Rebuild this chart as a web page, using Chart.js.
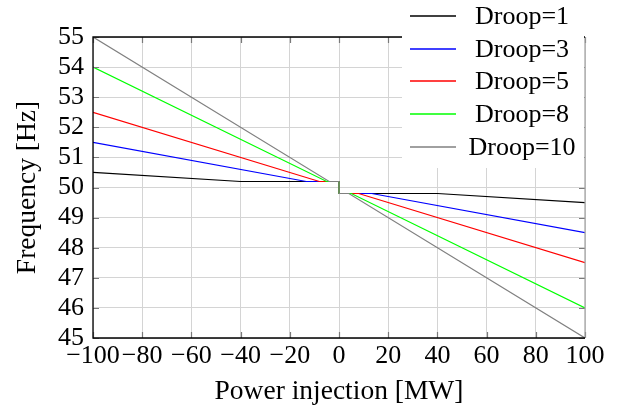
<!DOCTYPE html>
<html>
<head>
<meta charset="utf-8">
<script src="https://cdn.jsdelivr.net/npm/chart.js@4.4.0/dist/chart.umd.min.js"></script>
<style>
  html, body { margin: 0; padding: 0; background: #fff; }
  #wrap { position: relative; width: 628px; height: 412px; }
</style>
</head>
<body>
<div id="wrap"><canvas id="chart"></canvas></div>
<script>
//chart data
const seriesLabels = ["Droop=1", "Droop=3", "Droop=5", "Droop=8", "Droop=10"];
const seriesColors = ["#000000", "#0000ff", "#ff0000", "#00ff00", "#808080"];

const droop1X = [-100, -40, 0, 0, 40, 100];
const droop1Y = [50.5, 50.2, 50.2, 49.8, 49.8, 49.5];
const droop3X = [-100, -13.3, 0, 0, 13.3, 100];
const droop3Y = [51.5, 50.2, 50.2, 49.8, 49.8, 48.5];
const droop5X = [-100, -8, 0, 0, 8, 100];
const droop5Y = [52.5, 50.2, 50.2, 49.8, 49.8, 47.5];
const droop8X = [-100, -5, 0, 0, 5, 100];
const droop8Y = [54, 50.2, 50.2, 49.8, 49.8, 46];
const droop10X = [-100, -4, 0, 0, 4, 100];
const droop10Y = [55, 50.2, 50.2, 49.8, 49.8, 45];

const xTickValues = [-100, -80, -60, -40, -20, 0, 20, 40, 60, 80, 100];
const yTickValues = [45, 46, 47, 48, 49, 50, 51, 52, 53, 54, 55];

const FONT = "'Liberation Serif', 'Times New Roman', serif";

//build the point lists for the library
function toPoints(xs, ys) {
    return xs.map((x, i) => ({x: x, y: ys[i]}));
}
const seriesX = [droop1X, droop3X, droop5X, droop8X, droop10X];
const seriesY = [droop1Y, droop3Y, droop5Y, droop8Y, droop10Y];

//later series are drawn on top, like in the pgfplots figure
const datasets = seriesLabels.map((label, i) => ({
    label: label,
    data: toPoints(seriesX[i], seriesY[i]),
    borderColor: seriesColors[i],
    backgroundColor: seriesColors[i],
    borderWidth: 1.2,
    showLine: true,
    pointRadius: 0,
    tension: 0,
    order: seriesLabels.length - i
}));

//draws the inward tick marks and the axis box
const frameBox = {
    id: "frameBox",
    afterDatasetsDraw(chart) {
        const ctx = chart.ctx;
        const a = chart.chartArea;
        const xs = chart.scales.x, ys = chart.scales.y;
        ctx.save();
        ctx.strokeStyle = "#7a7a7a";
        ctx.lineWidth = 1.2;
        ctx.beginPath();
        xTickValues.forEach(v => {
            const px = Math.round(xs.getPixelForValue(v)) + 0.5;
            ctx.moveTo(px, a.bottom); ctx.lineTo(px, a.bottom - 6);
            ctx.moveTo(px, a.top); ctx.lineTo(px, a.top + 6);
        });
        yTickValues.forEach(v => {
            const py = Math.round(ys.getPixelForValue(v)) + 0.5;
            ctx.moveTo(a.left, py); ctx.lineTo(a.left + 6, py);
            ctx.moveTo(a.right, py); ctx.lineTo(a.right - 6, py);
        });
        ctx.stroke();

        //right side is lighter in the reference
        ctx.strokeStyle = "#a0a0a0";
        ctx.beginPath();
        ctx.moveTo(a.right, a.top); ctx.lineTo(a.right, a.bottom);
        ctx.stroke();

        ctx.strokeStyle = "#000";
        ctx.lineWidth = 1.3;
        ctx.beginPath();
        ctx.moveTo(a.right, a.top);
        ctx.lineTo(a.left, a.top);
        ctx.lineTo(a.left, a.bottom);
        ctx.lineTo(a.right, a.bottom);
        ctx.stroke();
        ctx.restore();
    }
};

//legend box in the top right corner, like the pgfplots one
const boxLegend = {
    id: "boxLegend",
    afterDraw(chart) {
        const ctx = chart.ctx;
        const a = chart.chartArea;
        const left = 402, top = 0, right = a.right - 1, bottom = 168;
        ctx.save();
        ctx.fillStyle = "#fff";
        ctx.fillRect(left, top, right - left, bottom - top);
        ctx.font = "26px " + FONT;
        ctx.textAlign = "center";
        ctx.textBaseline = "alphabetic";
        chart.data.datasets.forEach((ds, i) => {
            const y = Math.round(16 + i * 32.7);
            ctx.strokeStyle = seriesColors[i];
            ctx.lineWidth = 1.4;
            ctx.beginPath();
            ctx.moveTo(410, y);
            ctx.lineTo(456, y);
            ctx.stroke();
            ctx.fillStyle = "#000";
            ctx.fillText(ds.label, 522, y + 7.5);
        });
        ctx.restore();
    }
};

new Chart(document.getElementById("chart"), {
    type: "scatter",
    data: {datasets: datasets},
    options: {
        responsive: true,
        maintainAspectRatio: false,
        animation: false,
        layout: {padding: {left: 0, top: 37, right: 43, bottom: 0}},
        plugins: {
            legend: {display: false},
            tooltip: {enabled: false}
        },
        scales: {
            x: {
                type: "linear",
                min: -100,
                max: 100,
                afterBuildTicks: scale => { scale.ticks = xTickValues.map(v => ({value: v})); },
                afterFit: scale => { scale.height = 74; },
                grid: {color: "#d4d4d4", lineWidth: 1, drawTicks: false},
                border: {display: false},
                ticks: {
                    autoSkip: false,
                    maxRotation: 0,
                    padding: 3,
                    color: "#000",
                    font: {family: FONT, size: 26},
                    callback: v => v < 0 ? "\u2212" + Math.abs(v) : String(v)
                },
                title: {
                    display: true,
                    text: "Power injection [MW]",
                    color: "#000",
                    font: {family: FONT, size: 27.5},
                    padding: {top: 0, bottom: 4}
                }
            },
            y: {
                type: "linear",
                min: 45,
                max: 55,
                afterBuildTicks: scale => { scale.ticks = yTickValues.map(v => ({value: v})); },
                afterFit: scale => { scale.width = 93; },
                grid: {color: "#d4d4d4", lineWidth: 1, drawTicks: false},
                border: {display: false},
                ticks: {
                    autoSkip: false,
                    padding: 9,
                    color: "#000",
                    font: {family: FONT, size: 26}
                },
                title: {
                    display: true,
                    text: "Frequency [Hz]",
                    color: "#000",
                    font: {family: FONT, size: 27.5},
                    padding: {top: 11, bottom: 0}
                }
            }
        }
    },
    plugins: [frameBox, boxLegend]
});
</script>
</body>
</html>
